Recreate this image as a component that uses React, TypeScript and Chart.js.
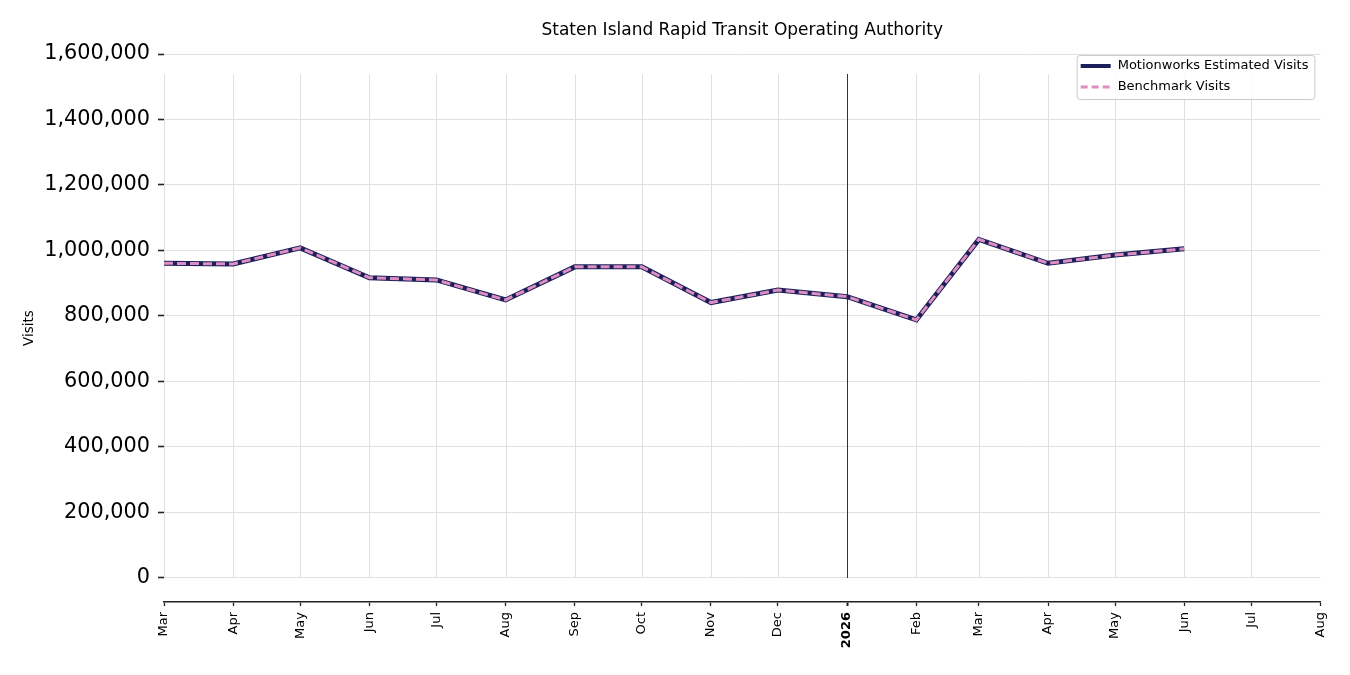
import React, { useEffect, useRef } from "react";
import { Chart, registerables } from "chart.js";

// Register Chart.js components
Chart.register(...registerables);

Chart.defaults.font.family = "'DejaVu Sans', sans-serif";
Chart.defaults.color = "#000";

const chartTitle = "Staten Island Rapid Transit Operating Authority";

// monthly points, first day of each month
const months = [
  "2025-03", "2025-04", "2025-05", "2025-06", "2025-07", "2025-08",
  "2025-09", "2025-10", "2025-11", "2025-12", "2026-01", "2026-02",
  "2026-03", "2026-04", "2026-05", "2026-06",
];

const estimatedVisits = [
  961000, 959000, 1008000, 917000, 910000, 849000, 950000, 950000,
  841000, 879000, 859000, 788000, 1034000, 961000, 986000, 1005000,
];

const benchmarkVisits = [
  961000, 959000, 1008000, 917000, 910000, 849000, 950000, 950000,
  841000, 879000, 859000, 788000, 1034000, 961000, 986000, 1005000,
];

// x axis ticks
const tickMonths = [
  "2025-03", "2025-04", "2025-05", "2025-06", "2025-07", "2025-08",
  "2025-09", "2025-10", "2025-11", "2025-12", "2026-01", "2026-02",
  "2026-03", "2026-04", "2026-05", "2026-06", "2026-07", "2026-08",
];
const tickLabels = [
  "Mar", "Apr", "May", "Jun", "Jul", "Aug", "Sep", "Oct", "Nov", "Dec",
  "2026", "Feb", "Mar", "Apr", "May", "Jun", "Jul", "Aug",
];

const yTicks = [0, 200000, 400000, 600000, 800000, 1000000, 1200000, 1400000, 1600000];

const Y_MIN = -73300;
const Y_MAX = 1600000;
const VGRID_TOP = 1539000;
const YEAR_MARK = "2026-01";

const seriesLabels = ["Motionworks Estimated Visits", "Benchmark Visits"];
const NAVY = "#1c1f5b";
const PINK = "#dc8fc0";

const dayOf = (m: string) => {
  const [y, mo] = m.split("-").map(Number);
  return (Date.UTC(y, mo - 1, 1) - Date.UTC(2025, 2, 1)) / 86400000;
};

const boldIndex = tickLabels.indexOf("2026");

const overlayPlugin = {
  id: "overlay",
  beforeDatasetsDraw(chart: any) {
    const { ctx, scales } = chart;
    const x = scales.x;
    const y = scales.y;
    const top = y.getPixelForValue(VGRID_TOP);
    const bottom = y.getPixelForValue(0);
    ctx.save();
    ctx.lineWidth = 1;
    ctx.strokeStyle = "#e0e0e0";
    tickMonths.slice(0, -1).forEach((m) => {
      const px = Math.round(x.getPixelForValue(dayOf(m))) + 0.5;
      ctx.beginPath();
      ctx.moveTo(px, top);
      ctx.lineTo(px, bottom);
      ctx.stroke();
    });
    // year marker
    const yx = Math.round(x.getPixelForValue(dayOf(YEAR_MARK))) + 0.5;
    ctx.strokeStyle = "#333";
    ctx.beginPath();
    ctx.moveTo(yx, top);
    ctx.lineTo(yx, bottom);
    ctx.stroke();
    ctx.restore();
  },
  afterDraw(chart: any) {
    const { ctx, chartArea } = chart;
    ctx.save();
    // title over the plot area
    ctx.font = "17px 'DejaVu Sans'";
    ctx.fillStyle = "#000";
    ctx.textAlign = "center";
    ctx.textBaseline = "middle";
    ctx.fillText(chartTitle, (chartArea.left + chartArea.right) / 2, 23);

    // legend box, upper right
    ctx.font = "13px 'DejaVu Sans'";
    const tw = Math.max(...seriesLabels.map((s) => ctx.measureText(s).width));
    const w = 4 + 30 + 7 + tw + 6;
    const h = 44;
    const bx = chartArea.right - 6 - w;
    const by = chartArea.top + 1;
    ctx.fillStyle = "rgba(255,255,255,0.85)";
    ctx.strokeStyle = "#cccccc";
    ctx.lineWidth = 1;
    ctx.beginPath();
    ctx.roundRect(bx + 0.5, by + 0.5, w, h, 3);
    ctx.fill();
    ctx.stroke();

    const rows = [by + 11, by + 32];
    ctx.lineCap = "butt";
    ctx.strokeStyle = NAVY;
    ctx.lineWidth = 4;
    ctx.beginPath();
    ctx.moveTo(bx + 4, rows[0]);
    ctx.lineTo(bx + 34, rows[0]);
    ctx.stroke();
    ctx.strokeStyle = PINK;
    ctx.lineWidth = 3;
    ctx.setLineDash([7, 4]);
    ctx.beginPath();
    ctx.moveTo(bx + 4, rows[1]);
    ctx.lineTo(bx + 34, rows[1]);
    ctx.stroke();
    ctx.setLineDash([]);

    ctx.fillStyle = "#000";
    ctx.textAlign = "left";
    ctx.textBaseline = "middle";
    seriesLabels.forEach((s, i) => ctx.fillText(s, bx + 41, rows[i]));
    ctx.restore();
  },
};

const App: React.FC = () => {
  const chartRef = useRef<HTMLCanvasElement>(null);
  const chartInstance = useRef<Chart | null>(null);

  useEffect(() => {
    if (!chartRef.current) return;
    if (chartInstance.current) chartInstance.current.destroy();
    const ctx = chartRef.current.getContext("2d");
    if (!ctx) return;

    chartInstance.current = new Chart(ctx, {
      type: "line",
      data: {
        datasets: [
          {
            label: seriesLabels[0],
            data: months.map((m, i) => ({ x: dayOf(m), y: estimatedVisits[i] })),
            borderColor: NAVY,
            borderWidth: 5,
            pointRadius: 0,
            tension: 0,
            order: 2,
          },
          {
            label: seriesLabels[1],
            data: months.map((m, i) => ({ x: dayOf(m), y: benchmarkVisits[i] })),
            borderColor: PINK,
            borderWidth: 3,
            borderDash: [9, 4],
            pointRadius: 0,
            tension: 0,
            order: 1,
          },
        ],
      },
      options: {
        responsive: true,
        maintainAspectRatio: false,
        animation: false,
        layout: { padding: { top: 46, right: 21, left: 0, bottom: 0 } },
        plugins: {
          legend: { display: false },
          title: { display: false },
          tooltip: { enabled: false },
        },
        scales: {
          x: {
            type: "linear",
            min: dayOf(tickMonths[0]),
            max: dayOf(tickMonths[tickMonths.length - 1]),
            afterBuildTicks: (scale: any) => {
              scale.ticks = tickMonths.map((m) => ({ value: dayOf(m) }));
            },
            afterFit: (scale: any) => {
              scale.height = 65;
            },
            ticks: {
              autoSkip: false,
              maxRotation: 90,
              minRotation: 90,
              padding: 6,
              color: "#000",
              font: (c: any) => ({
                size: 13,
                weight: c.index === boldIndex ? "bold" : "normal",
              }),
              callback: (_v: any, i: number) => tickLabels[i],
            },
            grid: {
              drawOnChartArea: false,
              drawTicks: true,
              tickLength: 4,
              tickColor: "#222",
              tickWidth: (c: any) => (c.index === boldIndex ? 2 : 1.3),
            },
            border: { display: true, color: "#222", width: 1.6 },
          },
          y: {
            min: Y_MIN,
            max: Y_MAX,
            afterBuildTicks: (scale: any) => {
              scale.ticks = yTicks.map((v) => ({ value: v }));
            },
            afterFit: (scale: any) => {
              scale.width = 156;
            },
            ticks: {
              padding: 8,
              color: "#000",
              font: { size: 20.8 },
              callback: (v: any) => Number(v).toLocaleString("en-US"),
            },
            grid: {
              color: "#e0e0e0",
              lineWidth: 1,
              drawTicks: true,
              tickLength: 6,
              tickColor: "#222",
              tickWidth: 1.6,
            },
            border: { display: false },
            title: {
              display: true,
              text: "Visits",
              color: "#000",
              font: { size: 13.5 },
              padding: { top: 13, bottom: 0 },
            },
          },
        },
      },
      plugins: [overlayPlugin],
    } as any);

    // Clean up chart instance on component unmount
    return () => {
      if (chartInstance.current) {
        chartInstance.current.destroy();
        chartInstance.current = null;
      }
    };
  }, []);

  return (
    <div style={{ height: "659px" }}>
      <canvas ref={chartRef}></canvas>
    </div>
  );
};

export default App;
